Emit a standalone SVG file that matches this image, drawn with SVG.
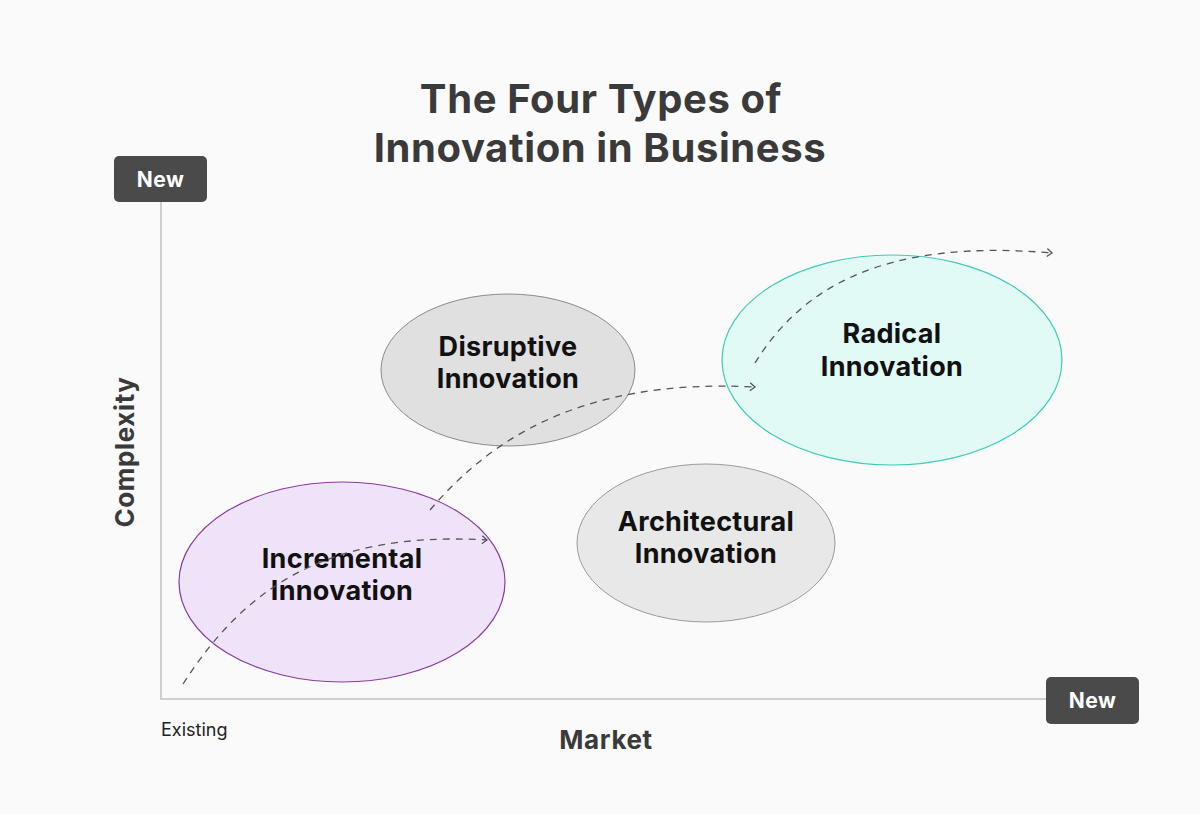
<svg xmlns="http://www.w3.org/2000/svg" width="1200" height="814" viewBox="0 0 1200 814">
<defs>
<style>
.title{font-family:Inter,"Liberation Sans",sans-serif;font-weight:700;font-size:40px;letter-spacing:0.6px;fill:#3a3a3a;text-anchor:middle}
.axis{stroke:#cfcfcf;stroke-width:2;fill:none}
.badge{fill:#4a4a4a}
.badgetext{font-family:Inter,"Liberation Sans",sans-serif;font-weight:700;font-size:21px;letter-spacing:0.4px;fill:#ffffff;text-anchor:middle}
.axlabel{font-family:Inter,"Liberation Sans",sans-serif;font-weight:700;font-size:26px;letter-spacing:0.6px;fill:#3a3a3a;text-anchor:middle}
.small{font-family:Inter,"Liberation Sans",sans-serif;font-size:18px;fill:#222}
.node{font-family:Inter,"Liberation Sans",sans-serif;font-weight:700;font-size:27px;letter-spacing:0.3px;fill:#111;text-anchor:middle}
.dash{stroke:#555;stroke-width:1.3;fill:none;stroke-dasharray:7 6;marker-end:url(#arr)}
</style>
<marker id="arr" markerWidth="10" markerHeight="10" refX="8" refY="5" orient="auto" markerUnits="userSpaceOnUse">
<path d="M3,1 L8,5 L3,9" fill="none" stroke="#555" stroke-width="1.3"/>
</marker>
</defs>
<rect width="1200" height="814" fill="#fafafa"/>
<g id="title">
<text class="title" x="601" y="113">The Four Types of</text>
<text class="title" x="600" y="162">Innovation in Business</text>
</g>
<g id="axes">
<line class="axis" x1="161" y1="202" x2="161" y2="700"/>
<line class="axis" x1="160" y1="699" x2="1046" y2="699"/>
<text class="axlabel" transform="translate(134,452) rotate(-90)">Complexity</text>
<text class="axlabel" x="606" y="749">Market</text>
<text class="small" x="161" y="736">Existing</text>
</g>
<g id="new-top">
<rect class="badge" x="114" y="156" width="93" height="46" rx="5"/>
<text class="badgetext" x="160.5" y="187">New</text>
</g>
<g id="new-right">
<rect class="badge" x="1046" y="677" width="93" height="47" rx="5"/>
<text class="badgetext" x="1092.5" y="708">New</text>
</g>
<g id="disruptive">
<ellipse cx="508" cy="370" rx="127" ry="76" fill="#e0e0e0" stroke="#8a8a8a" stroke-width="1"/>
<text class="node" x="508" y="356">Disruptive</text>
<text class="node" x="508" y="388">Innovation</text>
</g>
<g id="radical">
<ellipse cx="892" cy="360" rx="170" ry="105" fill="#e2faf6" stroke="#3fcbb6" stroke-width="1.2"/>
<text class="node" x="892" y="343">Radical</text>
<text class="node" x="892" y="376">Innovation</text>
</g>
<g id="incremental">
<ellipse cx="342" cy="582" rx="163" ry="100" fill="#efe3fa" stroke="#8b3aa3" stroke-width="1.2"/>
<text class="node" x="342" y="568">Incremental</text>
<text class="node" x="342" y="600">Innovation</text>
</g>
<g id="architectural">
<ellipse cx="706" cy="543" rx="129" ry="79" fill="#e8e8e8" stroke="#9a9a9a" stroke-width="1"/>
<text class="node" x="706" y="531">Architectural</text>
<text class="node" x="706" y="563">Innovation</text>
</g>
<g id="connectors">
<path class="dash" d="M183,684 C240,595 320,530 487,540"/>
<path class="dash" d="M430,510 C490,440 580,378 755,387"/>
<path class="dash" d="M755,363 C800,290 880,238 1052,253"/>
</g>
</svg>
